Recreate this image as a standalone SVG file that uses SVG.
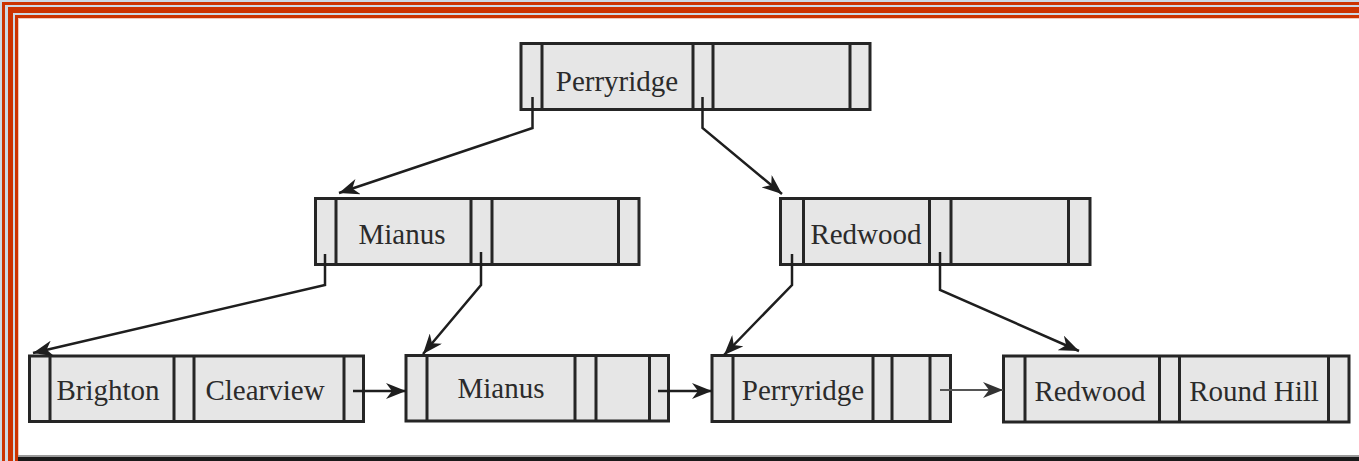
<svg xmlns="http://www.w3.org/2000/svg" width="1359" height="461" viewBox="0 0 1359 461">
  <defs>
    <style>
      .box { fill: #e6e6e6; stroke: #252525; stroke-width: 3; }
      .div { stroke: #252525; stroke-width: 3; }
      .lbl { font-family: "Liberation Serif", "Times New Roman", serif; font-size: 29px; fill: #2b2b2b; text-anchor: middle; }
      .conn { fill: none; stroke: #1e1e1e; stroke-width: 2.5; }
      .conn2 { fill: none; stroke: #555; stroke-width: 2; }
      .red { fill: #cc3300; }
      .pale { fill: #cdd9e4; }
    </style>
    <marker id="arr" markerUnits="userSpaceOnUse" markerWidth="22" markerHeight="16" refX="20" refY="8" orient="auto">
      <path d="M0,0 L20,8 L0,16 L6,8 Z" fill="#1e1e1e"/>
    </marker>
    <marker id="arr2" markerUnits="userSpaceOnUse" markerWidth="22" markerHeight="16" refX="20" refY="8" orient="auto">
      <path d="M0,0 L20,8 L0,16 L6,8 Z" fill="#333"/>
    </marker>
  </defs>

  <rect width="1359" height="461" fill="#ffffff"/>

  <!-- frame -->
  <g id="frame">
    <rect class="pale" x="0" y="0" width="1359" height="19"/>
    <rect class="pale" x="0" y="0" width="19" height="461"/>
    <rect class="red" x="2" y="2" width="1357" height="3"/>
    <rect class="red" x="2" y="2" width="3" height="459"/>
    <rect class="red" x="8" y="7" width="1351" height="6"/>
    <rect class="red" x="8" y="7" width="5" height="454"/>
    <rect class="red" x="15" y="15" width="1344" height="3"/>
    <rect class="red" x="15" y="15" width="3" height="446"/>
    <rect x="18" y="18" width="1341" height="1" fill="#f3c8b8"/>
    <rect x="18" y="18" width="1" height="440" fill="#f3c8b8"/>
    <rect x="18" y="455" width="1341" height="2" fill="#9a9a9a"/>
    <rect x="18" y="457" width="1341" height="4" fill="#1a1a1a"/>
  </g>

  <!-- root -->
  <g id="node-root">
    <rect class="box" x="521" y="43.5" width="349" height="66"/>
    <line class="div" x1="542" y1="43.5" x2="542" y2="109.5"/>
    <line class="div" x1="693" y1="43.5" x2="693" y2="109.5"/>
    <line class="div" x1="713" y1="43.5" x2="713" y2="109.5"/>
    <line class="div" x1="850" y1="43.5" x2="850" y2="109.5"/>
    <text class="lbl" x="617" y="91">Perryridge</text>
  </g>

  <!-- internal nodes -->
  <g id="node-mianus-int">
    <rect class="box" x="315.5" y="198.5" width="323.5" height="66"/>
    <line class="div" x1="336" y1="198.5" x2="336" y2="264.5"/>
    <line class="div" x1="471" y1="198.5" x2="471" y2="264.5"/>
    <line class="div" x1="492" y1="198.5" x2="492" y2="264.5"/>
    <line class="div" x1="618.5" y1="198.5" x2="618.5" y2="264.5"/>
    <text class="lbl" x="402" y="244">Mianus</text>
  </g>

  <g id="node-redwood-int">
    <rect class="box" x="780.5" y="198.5" width="309.5" height="66"/>
    <line class="div" x1="803.5" y1="198.5" x2="803.5" y2="264.5"/>
    <line class="div" x1="929.5" y1="198.5" x2="929.5" y2="264.5"/>
    <line class="div" x1="951" y1="198.5" x2="951" y2="264.5"/>
    <line class="div" x1="1068.5" y1="198.5" x2="1068.5" y2="264.5"/>
    <text class="lbl" x="866" y="244">Redwood</text>
  </g>

  <!-- leaves -->
  <g id="leaf-1">
    <rect class="box" x="29.5" y="356" width="334" height="65.5"/>
    <line class="div" x1="50" y1="356" x2="50" y2="421.5"/>
    <line class="div" x1="174" y1="356" x2="174" y2="421.5"/>
    <line class="div" x1="194" y1="356" x2="194" y2="421.5"/>
    <line class="div" x1="344" y1="356" x2="344" y2="421.5"/>
    <text class="lbl" x="108" y="400">Brighton</text>
    <text class="lbl" x="265" y="400">Clearview</text>
  </g>

  <g id="leaf-2">
    <rect class="box" x="406" y="355.5" width="262.5" height="65.5"/>
    <line class="div" x1="427" y1="355.5" x2="427" y2="421"/>
    <line class="div" x1="575" y1="355.5" x2="575" y2="421"/>
    <line class="div" x1="596" y1="355.5" x2="596" y2="421"/>
    <line class="div" x1="649.5" y1="355.5" x2="649.5" y2="421"/>
    <text class="lbl" x="501" y="398">Mianus</text>
  </g>

  <g id="leaf-3">
    <rect class="box" x="712" y="355.5" width="238.5" height="66"/>
    <line class="div" x1="733" y1="355.5" x2="733" y2="421.5"/>
    <line class="div" x1="873" y1="355.5" x2="873" y2="421.5"/>
    <line class="div" x1="892" y1="355.5" x2="892" y2="421.5"/>
    <line class="div" x1="930" y1="355.5" x2="930" y2="421.5"/>
    <text class="lbl" x="803" y="400">Perryridge</text>
  </g>

  <g id="leaf-4">
    <rect class="box" x="1003.5" y="356" width="345.5" height="66"/>
    <line class="div" x1="1025" y1="356" x2="1025" y2="422"/>
    <line class="div" x1="1159.5" y1="356" x2="1159.5" y2="422"/>
    <line class="div" x1="1179.5" y1="356" x2="1179.5" y2="422"/>
    <line class="div" x1="1328.5" y1="356" x2="1328.5" y2="422"/>
    <text class="lbl" x="1090" y="401">Redwood</text>
    <text class="lbl" x="1254" y="401">Round Hill</text>
  </g>

  <!-- connectors -->
  <g id="connectors">
    <path class="conn" d="M532.5,97 V128 L339,193" marker-end="url(#arr)"/>
    <path class="conn" d="M702.5,97 V128 L782,194" marker-end="url(#arr)"/>
    <path class="conn" d="M325,254 V285 L33,353" marker-end="url(#arr)"/>
    <path class="conn" d="M481,252 V285 L423,354" marker-end="url(#arr)"/>
    <path class="conn" d="M792,254 V285 L724,355" marker-end="url(#arr)"/>
    <path class="conn" d="M940,252 V290 L1079,351" marker-end="url(#arr)"/>
    <path class="conn" d="M353,391 H406" marker-end="url(#arr)"/>
    <path class="conn" d="M658,391 H712" marker-end="url(#arr)"/>
    <path class="conn2" d="M940,390 H1003" marker-end="url(#arr2)"/>
  </g>
</svg>
